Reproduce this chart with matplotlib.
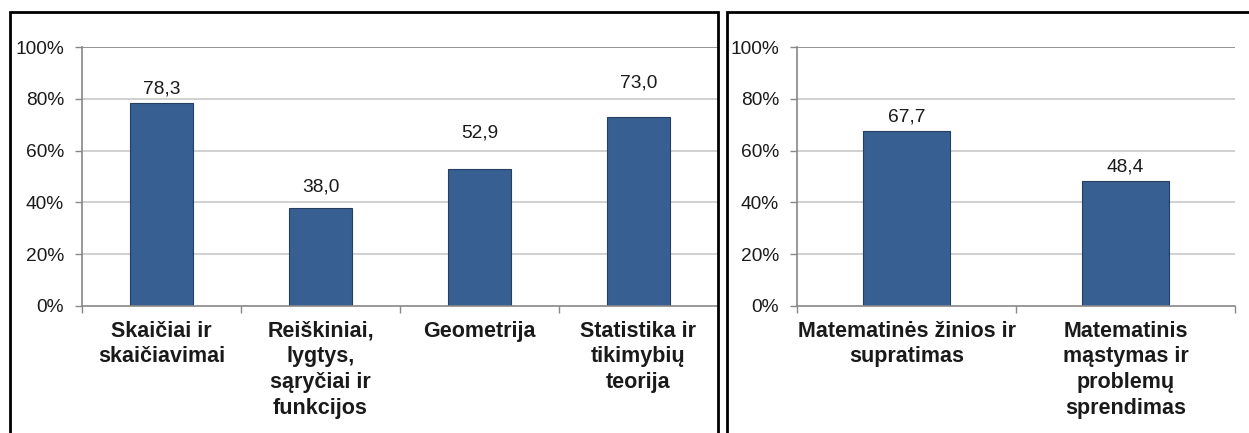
import matplotlib
matplotlib.use("Agg")
import matplotlib.pyplot as plt
from matplotlib.patches import Rectangle
from matplotlib.ticker import FixedLocator, PercentFormatter

plt.rcParams['font.family'] = ['Liberation Sans', 'DejaVu Sans']

left_categories = ["Skaičiai ir\nskaičiavimai", "Reiškiniai,\nlygtys,\nsąryčiai ir\nfunkcijos",
                   "Geometrija", "Statistika ir\ntikimybių\nteorija"]
left_values = [78.3, 38.0, 52.9, 73.0]
right_categories = ["Matematinės žinios ir\nsupratimas", "Matematinis\nmąstymas ir\nproblemų\nsprendimas"]
right_values = [67.7, 48.4]
y_ticks = [0, 20, 40, 60, 80, 100]

# label offsets above the bar tops (points), as placed in the original
left_label_pad = [4, 9, 20, 18.5]
right_label_pad = [4, 4]

BAR = '#375f92'
W, H = 1249, 433
fig = plt.figure(figsize=(W / 100, H / 100), dpi=100)

def px_axes(x0, x1, ytop, ybot):
    return fig.add_axes([x0 / W, 1 - ybot / H, (x1 - x0) / W, (ybot - ytop) / H])

def draw(ax, cats, vals, pads):
    n = len(cats)
    x = list(range(n))
    ax.set_xlim(-0.5, n - 0.5)
    ax.set_ylim(0, 100)
    for yv in y_ticks[1:]:
        ax.axhline(yv, color='#808080' if yv == 100 else '#c8c8c8', lw=1.2, zorder=0)
    ax.bar(x, vals, width=0.4, color=BAR, edgecolor='#253f60', linewidth=0.8, zorder=2)
    for xi, v, p in zip(x, vals, pads):
        ax.annotate(f"{v:.1f}".replace('.', ','), (xi, v), xytext=(0, p), textcoords='offset points',
                    ha='center', va='bottom', fontsize=13.8, color='#1a1a1a')
    ax.set_yticks(y_ticks)
    ax.yaxis.set_major_formatter(PercentFormatter(decimals=0))
    ax.set_xticks(x)
    ax.set_xticklabels(cats, fontsize=15.5, fontweight='bold', linespacing=1.3, color='#1a1a1a')
    ax.xaxis.set_minor_locator(FixedLocator([i - 0.5 for i in range(n + 1)]))
    ax.tick_params(axis='x', which='major', length=0, pad=10.5)
    ax.tick_params(axis='x', which='minor', length=5, color='#888888', width=1)
    ax.tick_params(axis='y', length=5, color='#888888', width=1, labelsize=13.8, pad=8, labelcolor='#1a1a1a')
    for s in ['top', 'right']:
        ax.spines[s].set_visible(False)
    for s in ['left', 'bottom']:
        ax.spines[s].set_color('#888888')
        ax.spines[s].set_linewidth(1.2)

ax1 = px_axes(82, 718, 47, 306)
draw(ax1, left_categories, left_values, left_label_pad)
ax2 = px_axes(797, 1235, 47, 306)
draw(ax2, right_categories, right_values, right_label_pad)

# panel borders
fig.add_artist(Rectangle((10 / W, -0.1), (718 - 10) / W, 1.1 - 12 / H, transform=fig.transFigure,
                         fill=False, edgecolor='black', lw=2))
fig.add_artist(Rectangle((727 / W, -0.1), (1300 - 727) / W, 1.1 - 12 / H, transform=fig.transFigure,
                         fill=False, edgecolor='black', lw=2, clip_on=False))

fig.savefig("out.png", dpi=100)
